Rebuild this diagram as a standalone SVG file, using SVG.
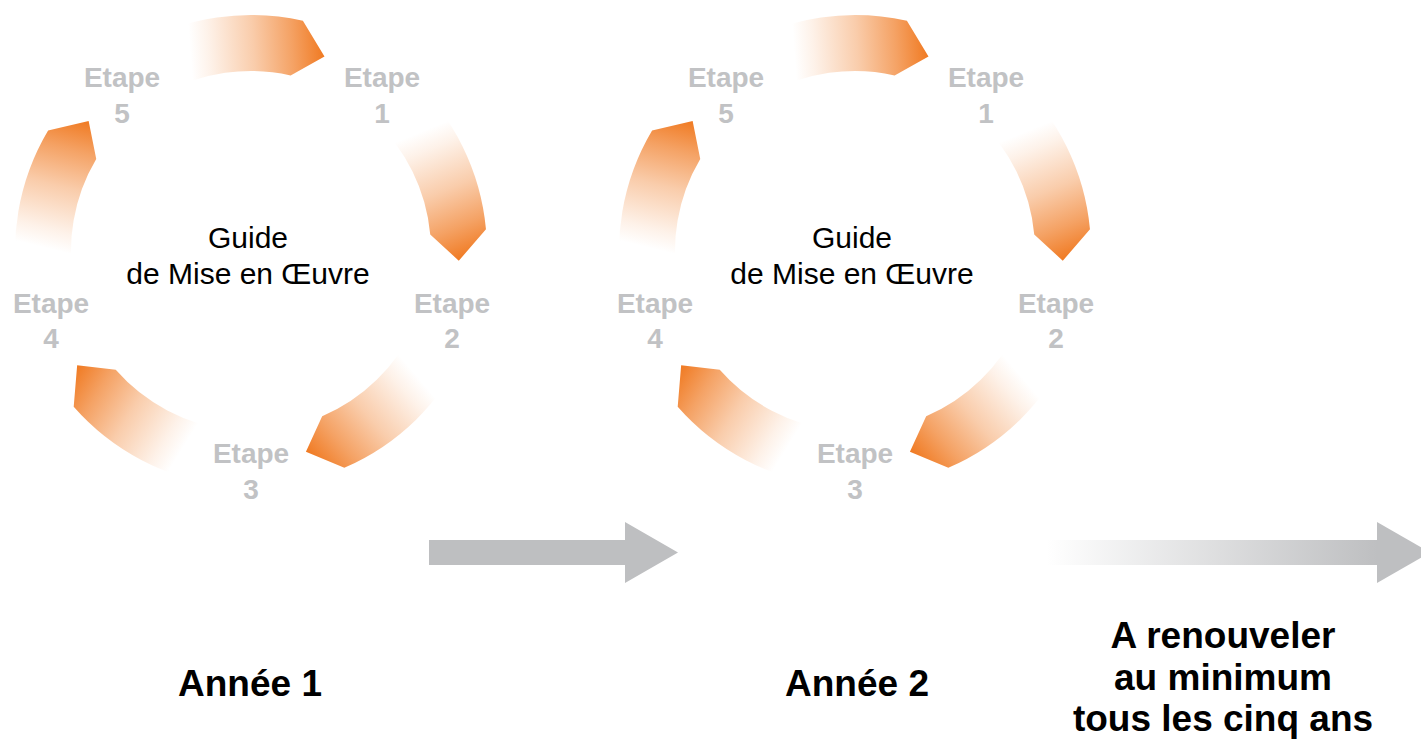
<svg xmlns="http://www.w3.org/2000/svg" width="1421" height="744" viewBox="0 0 1421 744">
  <style>
    .etape { font-family: "Liberation Sans", Arial, sans-serif; font-weight: bold; font-size: 28px; fill: #C1C2C4; text-anchor: middle; }
    .guide { font-family: "Liberation Sans", Arial, sans-serif; font-size: 30px; fill: #000000; text-anchor: middle; }
    .big { font-family: "Liberation Sans", Arial, sans-serif; font-weight: bold; font-size: 37px; fill: #000000; text-anchor: middle; }
    .arcshape { fill: url(#arcGrad); }
  </style>
  <defs>
    <linearGradient id="arcGrad" gradientUnits="userSpaceOnUse" x1="-101.8" y1="-181.4" x2="73.5" y2="-194.6">
      <stop offset="0" stop-color="#F07A22" stop-opacity="0"/>
      <stop offset="0.24" stop-color="#F07A22" stop-opacity="0"/>
      <stop offset="0.35" stop-color="#F07A22" stop-opacity="0.1"/>
      <stop offset="0.6" stop-color="#F07A22" stop-opacity="0.38"/>
      <stop offset="0.82" stop-color="#F07A22" stop-opacity="0.7"/>
      <stop offset="1" stop-color="#F07A22" stop-opacity="1"/>
    </linearGradient>
    <path id="arc" class="arcshape" d="M -115.5 -205.8 A 236 236 0 0 1 51.9 -230.2 L 73.5 -194.6 L 39.6 -175.6 A 180 180 0 0 0 -88.1 -157.0 Z"/>
    <linearGradient id="arrowGrad" gradientUnits="userSpaceOnUse" x1="1047" y1="0" x2="1377" y2="0">
      <stop offset="0" stop-color="#BEBFC1" stop-opacity="0"/>
      <stop offset="1" stop-color="#BEBFC1" stop-opacity="1"/>
    </linearGradient>
  </defs>

  <g id="cycle1">
    <g id="cycle1-arcs" transform="translate(251,251)">
      <use href="#arc"/>
      <use href="#arc" transform="rotate(72)"/>
      <use href="#arc" transform="rotate(144)"/>
      <use href="#arc" transform="rotate(216)"/>
      <use href="#arc" transform="rotate(288)"/>
    </g>
    <g id="c1-etape1"><text class="etape" x="382" y="87">Etape</text><text class="etape" x="382" y="123">1</text></g>
    <g id="c1-etape2"><text class="etape" x="452" y="313">Etape</text><text class="etape" x="452" y="348">2</text></g>
    <g id="c1-etape3"><text class="etape" x="251" y="463">Etape</text><text class="etape" x="251" y="499">3</text></g>
    <g id="c1-etape4"><text class="etape" x="51" y="313">Etape</text><text class="etape" x="51" y="348">4</text></g>
    <g id="c1-etape5"><text class="etape" x="122" y="87">Etape</text><text class="etape" x="122" y="123">5</text></g>
    <g id="c1-guide"><text class="guide" x="248" y="248">Guide</text><text class="guide" x="248" y="284">de Mise en Œuvre</text></g>
  </g>

  <g id="cycle2" transform="translate(604,0)">
    <g id="cycle2-arcs" transform="translate(251,251)">
      <use href="#arc"/>
      <use href="#arc" transform="rotate(72)"/>
      <use href="#arc" transform="rotate(144)"/>
      <use href="#arc" transform="rotate(216)"/>
      <use href="#arc" transform="rotate(288)"/>
    </g>
    <g id="c2-etape1"><text class="etape" x="382" y="87">Etape</text><text class="etape" x="382" y="123">1</text></g>
    <g id="c2-etape2"><text class="etape" x="452" y="313">Etape</text><text class="etape" x="452" y="348">2</text></g>
    <g id="c2-etape3"><text class="etape" x="251" y="463">Etape</text><text class="etape" x="251" y="499">3</text></g>
    <g id="c2-etape4"><text class="etape" x="51" y="313">Etape</text><text class="etape" x="51" y="348">4</text></g>
    <g id="c2-etape5"><text class="etape" x="122" y="87">Etape</text><text class="etape" x="122" y="123">5</text></g>
    <g id="c2-guide"><text class="guide" x="248" y="248">Guide</text><text class="guide" x="248" y="284">de Mise en Œuvre</text></g>
  </g>

  <g id="connectors">
    <path id="arrow1" fill="#BEBFC1" d="M 429 540 L 625 540 L 625 522 L 678 552.5 L 625 583 L 625 565 L 429 565 Z"/>
    <path id="arrow2-body" fill="url(#arrowGrad)" d="M 1047 540 L 1378 540 L 1378 565 L 1047 565 Z"/>
    <path id="arrow2-head" fill="#BEBFC1" d="M 1377 522 L 1430 552.5 L 1377 583 Z"/>
  </g>

  <g id="label-annee1"><text class="big" x="250" y="696">Année 1</text></g>
  <g id="label-annee2"><text class="big" x="857" y="696">Année 2</text></g>
  <g id="label-renouveler">
    <text class="big" x="1223" y="648">A renouveler</text>
    <text class="big" x="1223" y="690">au minimum</text>
    <text class="big" x="1223" y="731">tous les cinq ans</text>
  </g>
</svg>
